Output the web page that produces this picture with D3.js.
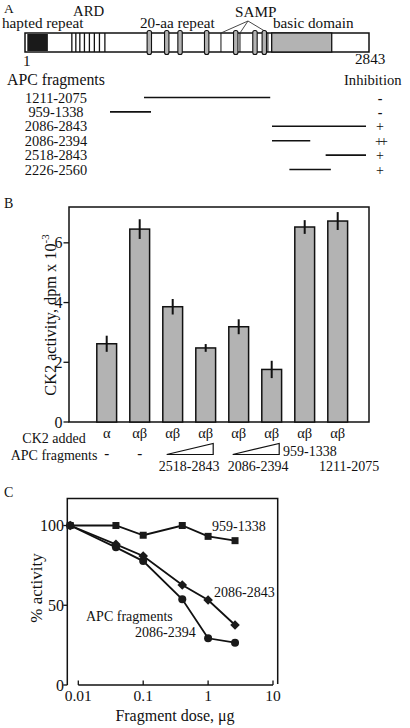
<!DOCTYPE html>
<html><head><meta charset="utf-8">
<script src="https://cdn.jsdelivr.net/npm/d3@7"></script>
<style>body{margin:0;background:#fff}svg{display:block}</style>
</head><body><svg id="c" width="410" height="728"></svg>
<script>
// ---------- Panel A data ----------
const proteinLength = 2843;
const hapRepeat = [20, 190];
const ardLines = [388, 421, 454, 492, 533, 574, 616, 661];
const aaRepeats = [1028, 1172, 1282, 1502, 1742, 1901, 1978];
const sampSites = [1620, 1777, 2008];
const basicDomain = [2039, 2535];
const fragStart = [1211, 959, 2086, 2086, 2518, 2226];
const fragEnd = [2075, 1338, 2843, 2394, 2843, 2560];
const inhibition = ["-", "-", "+", "++", "+", "+"];
// ---------- Panel B data ----------
const ck2Added = ["α", "αβ", "αβ", "αβ", "αβ", "αβ", "αβ", "αβ"];
const activity = [2.62, 6.46, 3.86, 2.48, 3.19, 1.76, 6.53, 6.73];
const activityErr = [0.27, 0.33, 0.26, 0.13, 0.25, 0.29, 0.23, 0.30];
const bTicks = [0, 2, 4, 6];
// ---------- Panel C data ----------
const dose = [0.0075, 0.038, 0.1, 0.4, 1, 2.6];
const s959 = [100, 100, 93.9, 100, 93.2, 90.5];
const s2086_2843 = [100, 88.2, 80.9, 62.7, 53.3, 37.6];
const s2086_2394 = [100, 86.3, 77.7, 53.7, 29.3, 26.5];
const cYTicks = [0, 50, 100];
const cXTicks = [0.01, 0.1, 1, 10];
const cXTickLabels = ["0.01", "0.1", "1", "10"];

const FAM = "Liberation Serif, Times New Roman, Tinos, DejaVu Serif, serif";
const svg = d3.select("#c").attr("font-family", FAM);
const F = 15.2;
function txt(x, y, s, size, anchor) {
  return svg.append("text").attr("x", x).attr("y", y).attr("font-size", size || F)
    .attr("font-family", FAM).attr("fill", "#111")
    .attr("text-anchor", anchor || "start").text(s);
}

// ================= Panel A =================
const bx = d3.scaleLinear().domain([1, proteinLength]).range([25, 369]);
const barTop = 33, barH = 19;
txt(4, 12.5, "A", 13.5);
txt(2, 28, "hapted repeat");
txt(73, 16, "ARD", 14.8);
txt(140, 28, "20-aa repeat");
txt(235, 16.5, "SAMP");
txt(273, 28, "basic domain");
svg.append("rect").attr("x", bx(1)).attr("y", barTop).attr("width", bx(proteinLength) - bx(1)).attr("height", barH)
  .attr("fill", "#fff").attr("stroke", "#111").attr("stroke-width", 1.5);
svg.append("rect").attr("x", bx(hapRepeat[0])).attr("y", barTop + 1).attr("width", bx(hapRepeat[1]) - bx(hapRepeat[0])).attr("height", barH - 2)
  .attr("fill", "#1a1a1a");
svg.append("rect").attr("x", bx(basicDomain[0])).attr("y", barTop).attr("width", bx(basicDomain[1]) - bx(basicDomain[0])).attr("height", barH)
  .attr("fill", "#b3b3b3").attr("stroke", "#111").attr("stroke-width", 1.3);
svg.selectAll(".ard").data(ardLines).enter().append("line")
  .attr("x1", d => bx(d)).attr("x2", d => bx(d)).attr("y1", barTop).attr("y2", barTop + barH)
  .attr("stroke", "#111").attr("stroke-width", 1.3);
svg.selectAll(".samp").data(sampSites).enter().append("line")
  .attr("x1", d => bx(d)).attr("x2", d => bx(d)).attr("y1", barTop).attr("y2", barTop + barH)
  .attr("stroke", "#111").attr("stroke-width", 1);
svg.selectAll(".sampd").data(sampSites).enter().append("line")
  .attr("x1", 248).attr("y1", 21).attr("x2", d => bx(d)).attr("y2", barTop)
  .attr("stroke", "#333").attr("stroke-width", 0.9);
svg.selectAll(".rep").data(aaRepeats).enter().append("rect")
  .attr("x", d => bx(d) - 2.2).attr("y", barTop - 2.5).attr("width", 4.4).attr("height", barH + 5)
  .attr("rx", 2).attr("fill", "#b3b3b3").attr("stroke", "#111").attr("stroke-width", 1.1);
txt(23, 66, "1");
txt(355, 64, String(proteinLength));

// fragments (the drawn fragment map is not to scale)
const fx = d3.scaleLinear().domain([959, 1211, 1338, 2086, 2843]).range([110, 144, 151, 272, 366]);
txt(7, 85, "APC fragments", 15.8);
txt(344, 85, "Inhibition", 14.6);
const rowY = i => 97.5 + i * 14.4;
fragStart.forEach((s, i) => {
  const y = rowY(i);
  svg.append("line").attr("x1", fx(s)).attr("x2", fx(fragEnd[i])).attr("y1", y).attr("y2", y)
    .attr("stroke", "#111").attr("stroke-width", 1.6);
  txt(56, y + 5, s + "-" + fragEnd[i], 14.4, "middle");
  txt(380, y + 5, inhibition[i], 14, "middle").attr("letter-spacing", inhibition[i] === "++" ? -3 : 0)
    .attr("font-weight", inhibition[i] === "-" ? "bold" : "normal");
});

// ================= Panel B =================
const byS = d3.scaleLinear().domain([0, 7.2]).range([422, 207]);
const bxS = d3.scaleBand().domain(d3.range(ck2Added.length)).range([86.9, 357.5]).paddingInner(0.4).paddingOuter(0.3);
txt(4, 208, "B", 14);
svg.append("rect").attr("x", 69).attr("y", byS(7.2)).attr("width", 300).attr("height", byS(0) - byS(7.2))
  .attr("fill", "none").attr("stroke", "#111").attr("stroke-width", 1.5);
bTicks.forEach(t => {
  svg.append("line").attr("x1", 63.5).attr("x2", 69).attr("y1", byS(t)).attr("y2", byS(t)).attr("stroke", "#111").attr("stroke-width", 1.3);
  txt(62.5, byS(t) + 5.5, t, 16, "end");
});
svg.selectAll(".bar").data(activity).enter().append("rect")
  .attr("x", (d, i) => bxS(i)).attr("width", bxS.bandwidth())
  .attr("y", d => byS(d)).attr("height", d => byS(0) - byS(d))
  .attr("fill", "#b3b3b3").attr("stroke", "#111").attr("stroke-width", 1.5);
svg.selectAll(".err").data(activity).enter().append("line")
  .attr("x1", (d, i) => bxS(i) + bxS.bandwidth() / 2).attr("x2", (d, i) => bxS(i) + bxS.bandwidth() / 2)
  .attr("y1", (d, i) => byS(d + activityErr[i])).attr("y2", (d, i) => byS(d - activityErr[i]))
  .attr("stroke", "#111").attr("stroke-width", 2);
const yl = svg.append("text").attr("transform", "translate(55.5,315) rotate(-90)").attr("text-anchor", "middle")
  .attr("font-size", 16.3).attr("font-family", FAM).attr("fill", "#111");
yl.append("tspan").text("CK2 activity, dpm x 10");
yl.append("tspan").attr("dy", -7).attr("font-size", 11).text("-3");
const bc = i => bxS(i) + bxS.bandwidth() / 2;
ck2Added.forEach((s, i) => txt(bc(i), 438, s, 14.5, "middle"));
txt(54, 443, "CK2 added", 14, "middle");
txt(54, 460, "APC fragments", 14, "middle");
txt(bc(0), 458, "-", 15, "middle").attr("font-weight", "bold");
txt(bc(1), 458, "-", 15, "middle").attr("font-weight", "bold");
function wedge(i0, i1) {
  const x0 = bc(i0) - 6, x1 = bc(i1) + 7.5;
  svg.append("path").attr("d", `M${x0},454.5 L${x1},443.5 L${x1},454.5 Z`)
    .attr("fill", "none").attr("stroke", "#111").attr("stroke-width", 1.2);
}
wedge(2, 3); wedge(4, 5);
txt((bc(2) + bc(3)) / 2, 471, "2518-2843", 14, "middle");
txt((bc(4) + bc(5)) / 2 + 3, 471, "2086-2394", 14, "middle");
txt(283, 456, "959-1338", 14);
txt(319, 471, "1211-2075", 14);

// ================= Panel C =================
const cy = d3.scaleLinear().domain([0, 117]).range([685, 498.4]);
const cx = d3.scaleLog().domain([0.01, 10]).range([78.3, 273]);
txt(4, 497, "C", 14);
svg.append("path").attr("d", `M67.3,685 L67.3,${cy(117)} L277.7,${cy(117)} L277.7,684`)
  .attr("fill", "none").attr("stroke", "#111").attr("stroke-width", 1.5);
svg.append("line").attr("x1", cx(0.01)).attr("x2", cx(10)).attr("y1", 685).attr("y2", 685).attr("stroke", "#111").attr("stroke-width", 1.5);
cXTicks.forEach((t, i) => {
  svg.append("line").attr("x1", cx(t)).attr("x2", cx(t)).attr("y1", 685).attr("y2", 680.5).attr("stroke", "#111").attr("stroke-width", 1.3);
  txt(cx(t), 701, cXTickLabels[i], 15.5, "middle");
});
cYTicks.forEach(t => {
  svg.append("line").attr("x1", 63.3).attr("x2", 67.3).attr("y1", cy(t)).attr("y2", cy(t)).attr("stroke", "#111").attr("stroke-width", 1.3);
  txt(64, cy(t) + 5.5, t, 16, "end");
});
const ln = d3.line().x((d, i) => cx(dose[i])).y(d => cy(d));
[s2086_2394, s2086_2843, s959].forEach(s => {
  svg.append("path").attr("d", ln(s)).attr("fill", "none").attr("stroke", "#111").attr("stroke-width", 1.8);
});
s2086_2394.forEach((d, i) => svg.append("circle").attr("cx", cx(dose[i])).attr("cy", cy(d)).attr("r", 4).attr("fill", "#1a1a1a"));
s2086_2843.forEach((d, i) => svg.append("rect").attr("x", -3.4).attr("y", -3.4).attr("width", 6.8).attr("height", 6.8)
  .attr("transform", `translate(${cx(dose[i])},${cy(d)}) rotate(45)`).attr("fill", "#1a1a1a"));
s959.forEach((d, i) => svg.append("rect").attr("x", cx(dose[i]) - 3.5).attr("y", cy(d) - 3.5).attr("width", 7).attr("height", 7).attr("fill", "#1a1a1a"));
txt(212, 530.5, "959-1338", 14);
txt(214, 596.5, "2086-2843", 14);
txt(86, 621, "APC fragments", 14);
txt(135, 637, "2086-2394", 14);
svg.append("text").attr("transform", "translate(42,588) rotate(-90)").attr("text-anchor", "middle")
  .attr("font-size", 17).attr("font-family", FAM).attr("fill", "#111").text("% activity");
txt(175, 721, "Fragment dose, μg", 16, "middle");
</script></body></html>
